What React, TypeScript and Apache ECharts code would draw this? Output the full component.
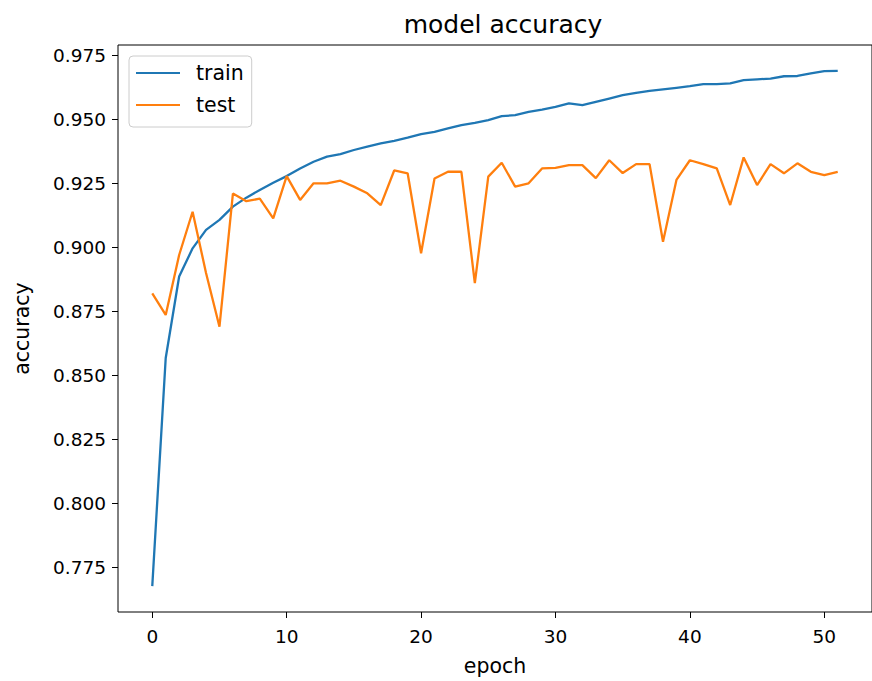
import React, { useEffect, useRef } from "react";
import * as echarts from "echarts";

const epochs: number[] = Array.from({ length: 52 }, (_, i) => i);

const trainAcc: number[] = [
  0.7677, 0.8568, 0.8886, 0.8996, 0.9068, 0.9107, 0.9159, 0.9194, 0.9224, 0.9252,
  0.9278, 0.9308, 0.9334, 0.9354, 0.9364, 0.938, 0.9393, 0.9406, 0.9416, 0.9428,
  0.9442, 0.9451, 0.9464, 0.9477, 0.9486, 0.9497, 0.9512, 0.9516, 0.9529, 0.9538,
  0.9548, 0.9562, 0.9555, 0.9568, 0.9581, 0.9594, 0.9603, 0.9611, 0.9617, 0.9623,
  0.9629, 0.9637, 0.9637, 0.964, 0.9653, 0.9656, 0.9659, 0.9668, 0.9669, 0.9679,
  0.9688, 0.9689,
];

const testAcc: number[] = [
  0.882, 0.8736, 0.897, 0.9139, 0.890, 0.869, 0.921, 0.918, 0.919, 0.9113,
  0.9278, 0.9185, 0.925, 0.925, 0.926, 0.9237, 0.9211, 0.9165, 0.930, 0.9289,
  0.8977, 0.9269, 0.9295, 0.9295, 0.886, 0.9276, 0.933, 0.9237, 0.925, 0.9308,
  0.931, 0.9321, 0.9321, 0.927, 0.934, 0.929, 0.9325, 0.9325, 0.9022, 0.9263,
  0.934, 0.9325, 0.9308, 0.9165, 0.9351, 0.9243, 0.9325, 0.9289, 0.9328, 0.9295,
  0.9282, 0.9295,
];

const xTicks: number[] = [0, 10, 20, 30, 40, 50];
const yTicks: number[] = [0.775, 0.8, 0.825, 0.85, 0.875, 0.9, 0.925, 0.95, 0.975];

const FONT = "DejaVu Sans";

export default function App() {
  const ref = useRef<HTMLDivElement>(null);

  useEffect(() => {
    if (!ref.current) return;
    const chart = echarts.init(ref.current, null, { renderer: "svg" });
    const xMin = -2.55;
    const xMax = 53.55;
    const yMin = 0.7576;
    const yMax = 0.979;
    chart.setOption({
      animation: false,
      backgroundColor: "#ffffff",
      title: {
        text: "model accuracy",
        left: 498,
        top: 7,
        textAlign: "center",
        textStyle: { fontFamily: FONT, fontSize: 25, fontWeight: "normal", color: "#000" },
      },
      legend: {
        orient: "vertical",
        left: 129,
        top: 56,
        data: ["train", "test"],
        icon: "rect",
        itemWidth: 44,
        itemHeight: 2.2,
        itemGap: 10,
        padding: [6, 8, 11, 7],
        borderColor: "#cccccc",
        borderWidth: 1,
        borderRadius: 4,
        backgroundColor: "rgba(255,255,255,0.8)",
        textStyle: {
          fontFamily: FONT,
          fontSize: 20.5,
          lineHeight: 22,
          color: "#000",
          padding: [0, 0, 0, 11],
        },
      },
      grid: {
        left: 118,
        top: 45,
        width: 762,
        height: 567,
        show: true,
        borderColor: "#000",
        borderWidth: 1,
        backgroundColor: "transparent",
        containLabel: false,
      },
      xAxis: {
        type: "value",
        min: xMin,
        max: xMax,
        name: "epoch",
        nameLocation: "middle",
        nameGap: 43,
        nameTextStyle: { fontFamily: FONT, fontSize: 20.5, color: "#000" },
        splitLine: { show: false },
        axisLine: { show: false, onZero: false },
        axisTick: { show: true, length: 6, lineStyle: { color: "#000" }, customValues: xTicks },
        axisLabel: {
          customValues: xTicks,
          margin: 15,
          fontFamily: FONT,
          fontSize: 18.5,
          color: "#000",
        },
      },
      yAxis: {
        type: "value",
        min: yMin,
        max: yMax,
        name: "accuracy",
        nameLocation: "middle",
        nameGap: 86,
        nameTextStyle: { fontFamily: FONT, fontSize: 20.5, color: "#000" },
        splitLine: { show: false },
        axisLine: { show: false, onZero: false },
        axisTick: { show: true, length: 6, lineStyle: { color: "#000" }, customValues: yTicks },
        axisLabel: {
          customValues: yTicks,
          margin: 12,
          fontFamily: FONT,
          fontSize: 18.5,
          color: "#000",
          formatter: (v: number) => v.toFixed(3),
        },
      },
      series: [
        {
          name: "train",
          type: "line",
          data: epochs.map((e, i) => [e, trainAcc[i]]),
          symbol: "none",
          lineStyle: { color: "#1f77b4", width: 2.3 },
          itemStyle: { color: "#1f77b4" },
        },
        {
          name: "test",
          type: "line",
          data: epochs.map((e, i) => [e, testAcc[i]]),
          symbol: "none",
          lineStyle: { color: "#ff7f0e", width: 2.3 },
          itemStyle: { color: "#ff7f0e" },
        },
      ],
    });
    return () => chart.dispose();
  }, []);

  return (
    <div
      ref={ref}
      style={{ position: "fixed", left: 0, top: 0, width: 872, height: 681, overflow: "hidden" }}
    />
  );
}
